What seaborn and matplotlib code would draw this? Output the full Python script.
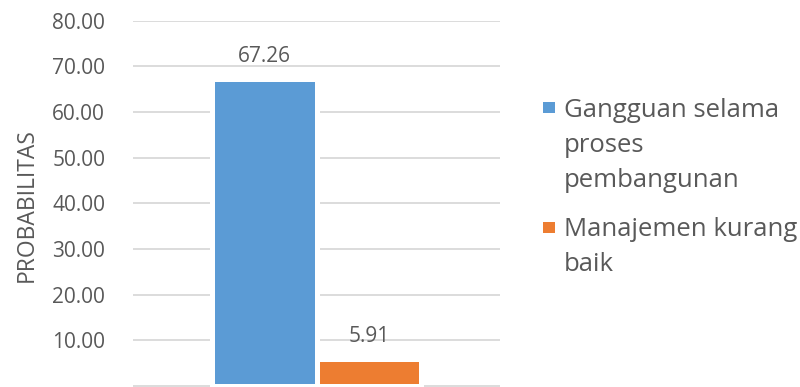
import textwrap
import matplotlib
matplotlib.use("Agg")
import matplotlib.pyplot as plt
from matplotlib.patches import Rectangle
import seaborn as sns
import pandas as pd

# ---- data ----
series = ["Gangguan selama proses pembangunan", "Manajemen kurang baik"]
values = [67.26, 5.91]
colors = ["#5B9BD5", "#ED7D31"]
y_label = "PROBABILITAS"
y_ticks = [10, 20, 30, 40, 50, 60, 70, 80]

df = pd.DataFrame({"cat": [""] * len(series), "series": series, "value": values})

sns.set_theme(style="white")
plt.rcParams["font.family"] = ["Open Sans", "DejaVu Sans"]
TXT = "#595959"
GRID = "#D9D9D9"

W, H = 800, 387
fig = plt.figure(figsize=(W / 100, H / 100), dpi=100)

px_per_unit = (386 - 20.7) / 80
ymin = -0.6
bottom_px = 386 + (-ymin) * px_per_unit
ax = fig.add_axes([133 / W, (H - bottom_px) / H, (500 - 133) / W, (bottom_px - 20.7) / H])

sns.barplot(data=df, x="cat", y="value", hue="series", hue_order=series,
            palette=colors, saturation=1, width=0.572, gap=0, dodge=True,
            edgecolor="white", linewidth=3.6, legend=False, ax=ax, zorder=3)

ax.set_ylim(ymin, 80)
ax.set_yticks([0] + y_ticks)
ax.set_yticklabels([""] + [f"{t:.2f}" for t in y_ticks])
ax.yaxis.grid(True, color=GRID, linewidth=1.3)
ax.set_axisbelow(True)
ax.tick_params(axis="y", length=0, pad=20, labelsize=15, labelcolor=TXT)
ax.tick_params(axis="x", length=0, labelbottom=False)
for s in ax.spines.values():
    s.set_visible(False)
ax.set_xlabel("")
ax.set_ylabel(y_label, fontsize=16.5, color=TXT, labelpad=10)

for cont in ax.containers:
    ax.bar_label(cont, fmt="%.2f", padding=8.5, fontsize=15, color=TXT)

# ---- legend (manual, Excel style) ----
baselines = [116.7, 236]
sq_tops = [101.7, 221.7]
line_step = 35
for name, col, bl, st in zip(series, colors, baselines, sq_tops):
    fig.add_artist(Rectangle((543 / W, 1 - (st + 11.6) / H), 11.6 / W, 11.6 / H,
                             transform=fig.transFigure, facecolor=col, edgecolor="none"))
    for i, line in enumerate(textwrap.wrap(name, 16)):
        fig.text(564 / W, 1 - (bl + i * line_step) / H, line, fontsize=18.5,
                 color=TXT, va="baseline", ha="left")

fig.savefig("out.png", dpi=100)
